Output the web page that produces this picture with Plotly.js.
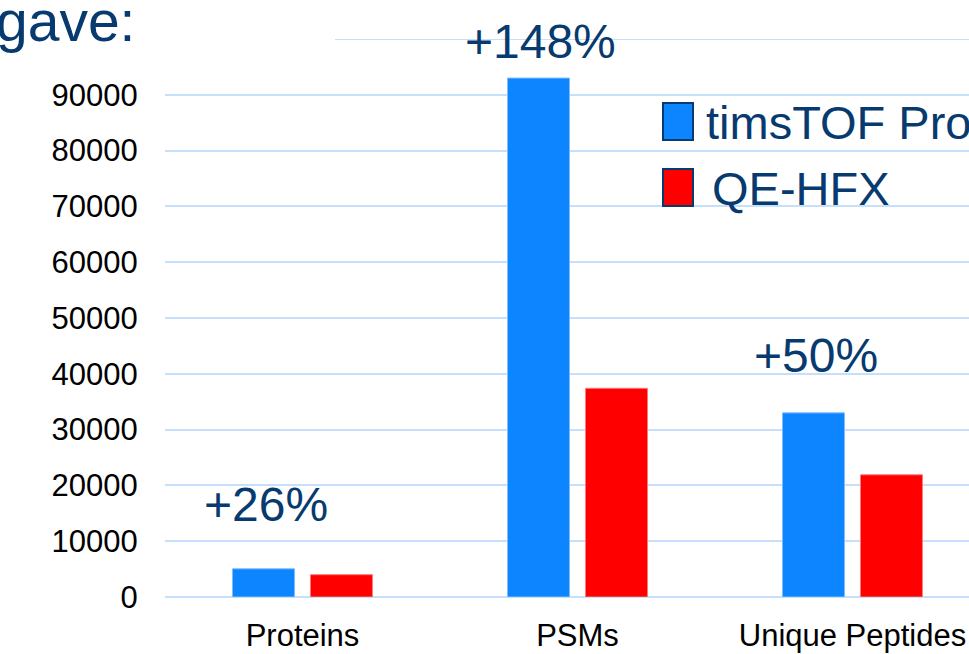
<!DOCTYPE html>
<html>
<head>
<meta charset="utf-8">
<script src="https://cdn.plot.ly/plotly-3.0.1.min.js"></script>
<style>html,body{margin:0;padding:0;background:#fff;}#chart{width:969px;height:654px;}</style>
</head>
<body>
<div id="chart"></div>
<script>
// ---- data ----
const categories = ['Proteins', 'PSMs', 'Unique Peptides'];
const timsTOF = [5050, 93000, 33000];
const qeHFX = [4000, 37400, 21900];
const gainLabels = ['+26%', '+148%', '+50%'];
const yTicks = [0, 10000, 20000, 30000, 40000, 50000, 60000, 70000, 80000, 90000];
const seriesNames = ['timsTOF Pro', 'QE-HFX'];
const headline = 'gave:';

// ---- style ----
const BLUE = '#0d85ff', RED = '#ff0000', NAVY = '#073a6e', GRID = '#c6e0fb';
const FONT = 'Liberation Sans, Arial, sans-serif';
const W = 969, H = 654, ML = 165, MR = 0, MT = 39, MB = 57;
const PW = W - ML - MR, PH = H - MT - MB;
const px = v => (v - ML) / PW;          // pixel -> paper x
const py = v => (H - MB - v) / PH;      // pixel -> paper y
const labelYShift = [36, 8, 29];

const traces = [
  {type: 'bar', name: seriesNames[0], x: categories, y: timsTOF,
   marker: {color: BLUE, line: {color: '#7dbdff', width: 1}}, hoverinfo: 'x+y'},
  {type: 'bar', name: seriesNames[1], x: categories, y: qeHFX,
   marker: {color: RED, line: {color: '#ff7a7a', width: 1}}, hoverinfo: 'x+y'}
];

const annotations = gainLabels.map((t, i) => ({
  x: categories[i], y: timsTOF[i], xref: 'x', yref: 'y', text: t, showarrow: false,
  xanchor: 'center', yanchor: 'bottom', xshift: -37, yshift: labelYShift[i],
  font: {family: FONT, size: 48, color: NAVY}
}));
annotations.push({
  xref: 'paper', yref: 'paper', x: px(-6), y: py(42), xanchor: 'left', yanchor: 'bottom',
  yshift: -13, text: headline, showarrow: false,
  font: {family: FONT, size: 57, color: NAVY}
});
annotations.push({
  xref: 'paper', yref: 'paper', x: px(704), y: py(122), xanchor: 'left', yanchor: 'middle',
  text: seriesNames[0], showarrow: false,
  font: {family: FONT, size: 47, color: NAVY}
});
annotations.push({
  xref: 'paper', yref: 'paper', x: px(710), y: py(188), xanchor: 'left', yanchor: 'middle',
  text: seriesNames[1], showarrow: false,
  font: {family: FONT, size: 47, color: NAVY}
});

const shapes = [
  {type: 'line', xref: 'paper', yref: 'y', x0: px(335), x1: 1, y0: 100000, y1: 100000,
   line: {color: GRID, width: 2}},
  {type: 'rect', xref: 'paper', yref: 'paper', x0: px(663), x1: px(693), y0: py(140), y1: py(103),
   fillcolor: BLUE, line: {color: NAVY, width: 2}},
  {type: 'rect', xref: 'paper', yref: 'paper', x0: px(663), x1: px(693), y0: py(206), y1: py(169),
   fillcolor: RED, line: {color: NAVY, width: 2}}
];

const layout = {
  width: W, height: H,
  margin: {l: ML, r: MR, t: MT, b: MB, pad: 0},
  paper_bgcolor: '#fff', plot_bgcolor: '#fff',
  showlegend: false,
  barmode: 'group', bargap: 0.433, bargroupgap: 0.205,
  font: {family: FONT, color: '#000'},
  xaxis: {
    type: 'category', range: [-0.5, -0.5 + PW / 275], showgrid: false, zeroline: false,
    showline: false, ticks: 'outside', ticklen: 11, tickcolor: 'rgba(0,0,0,0)',
    tickfont: {size: 31, color: '#000'}
  },
  yaxis: {
    range: [0, 100000], tickmode: 'array', tickvals: yTicks, ticktext: yTicks.map(String),
    showgrid: true, gridcolor: GRID, gridwidth: 2, zeroline: true, zerolinecolor: GRID,
    zerolinewidth: 2, showline: false, ticks: 'outside', ticklen: 20,
    tickcolor: 'rgba(0,0,0,0)', tickfont: {size: 31, color: '#000'}
  },
  annotations: annotations,
  shapes: shapes
};

Plotly.newPlot('chart', traces, layout, {displayModeBar: false, staticPlot: true});
</script>
</body>
</html>
